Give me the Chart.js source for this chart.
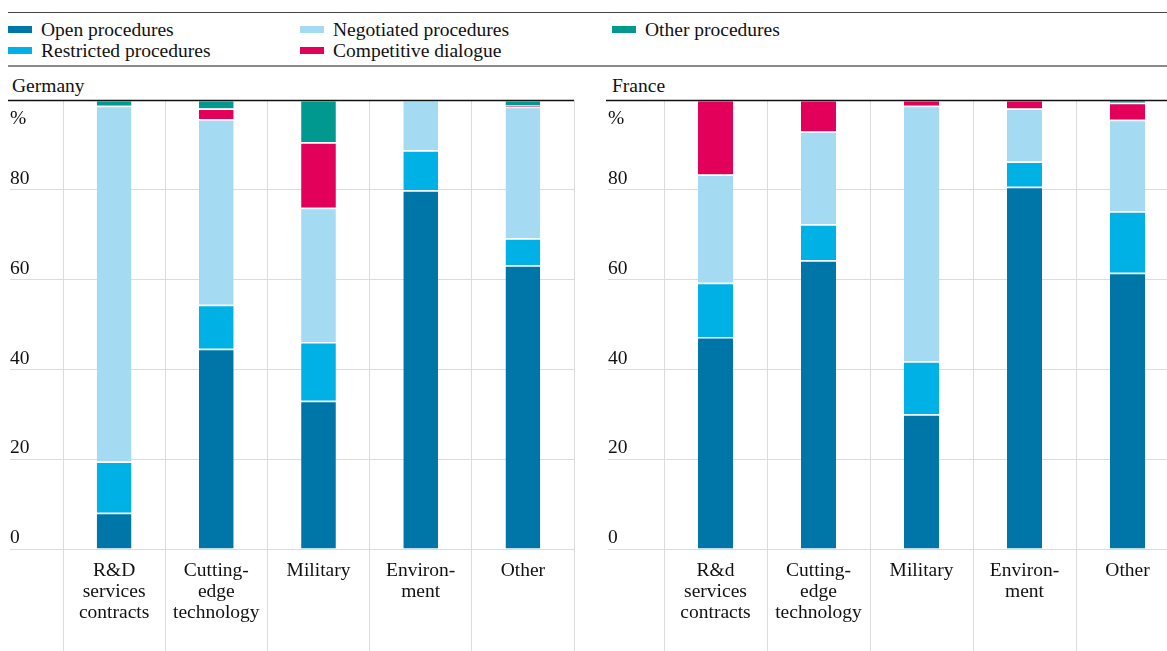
<!DOCTYPE html>
<html lang="en">
<head>
    <meta charset="UTF-8">
    <title>Procurement procedures: Germany and France</title>
    <style>
        body {
            margin: 0;
            padding: 0;
            width: 1167px;
            height: 651px;
            overflow: hidden;
            position: relative;
            background: #fff;
            font-family: "Liberation Serif", "Times New Roman", serif;
            color: #111;
        }

        .rule {
            position: absolute;
            left: 8px;
            right: 0;
        }

        #ruleTop { top: 12px; border-top: 1.5px solid #444; }
        #ruleMid { top: 65px; border-top: 2px solid #8a8a8a; }

        #legend {
            position: absolute;
            left: 8px;
            top: 19px;
            display: grid;
            grid-auto-flow: column;
            grid-template-rows: repeat(2, 21px);
            grid-template-columns: 292px 312px auto;
            font-size: 19.5px;
        }

        .item {
            display: flex;
            align-items: center;
            white-space: nowrap;
            line-height: 21px;
        }

        .swatch {
            width: 24px;
            height: 7px;
            margin-right: 9px;
            flex: none;
        }

        .panelTitle {
            position: absolute;
            top: 74px;
            font-size: 19.5px;
            line-height: 24px;
        }

        canvas {
            position: absolute;
            top: 88px;
        }
    </style>
    <script src="https://cdn.jsdelivr.net/npm/chart.js"></script>
</head>
<body>
    <div class="rule" id="ruleTop"></div>
    <div id="legend"></div>
    <div class="rule" id="ruleMid"></div>

    <div class="panelTitle" style="left: 12px;">Germany</div>
    <div class="panelTitle" style="left: 612px;">France</div>

    <canvas id="chartDE" width="568" height="563" style="left: 8px;"></canvas>
    <canvas id="chartFR" width="575" height="563" style="left: 606px;"></canvas>

    <script>
        // categories
        const categoriesDE = [['R&D', 'services', 'contracts'], ['Cutting-', 'edge', 'technology'], 'Military', ['Environ-', 'ment'], 'Other'];
        const categoriesFR = [['R&d', 'services', 'contracts'], ['Cutting-', 'edge', 'technology'], 'Military', ['Environ-', 'ment'], 'Other'];

        // series names and colours (stack order, bottom to top)
        const seriesNames = ['Open procedures', 'Restricted procedures', 'Negotiated procedures', 'Competitive dialogue', 'Other procedures'];
        const seriesColors = ['#0076a8', '#00b1e6', '#a5daf3', '#e3005a', '#00998f'];

        // Germany, % shares
        const openDE = [8.1, 44.6, 33.0, 79.9, 63.2];
        const restrictedDE = [11.4, 9.8, 13.1, 8.9, 6.0];
        const negotiatedDE = [79.2, 41.3, 29.9, 11.2, 29.3];
        const competitiveDE = [0, 2.4, 14.6, 0, 0.4];
        const otherDE = [1.3, 1.9, 9.4, 0, 1.1];

        // France, % shares
        const openFR = [47.2, 64.3, 30.0, 80.7, 61.5];
        const restrictedFR = [12.1, 8.0, 11.8, 5.6, 13.7];
        const negotiatedFR = [24.1, 20.7, 56.9, 11.8, 20.4];
        const competitiveFR = [16.6, 7.0, 1.3, 1.9, 3.8];
        const otherFR = [0, 0, 0, 0, 0.6];

        // y axis ticks
        const yTicks = [0, 20, 40, 60, 80, 100];
        const unitLabel = '%';

        const FONT = '"Liberation Serif", "Times New Roman", serif';
        const GRID = '#dcdcdc';
        const INK = '#111';

        // shared legend (html)
        const legend = document.getElementById('legend');
        seriesNames.forEach((name, i) => {
            const item = document.createElement('div');
            item.className = 'item';
            item.innerHTML = '<span class="swatch" style="background:' + seriesColors[i] + '"></span>' + name;
            legend.appendChild(item);
        });

        // dark rule at 100 % and the "%" unit under it
        const topRule = {
            id: 'topRule',
            afterDraw(chart) {
                const { ctx, chartArea } = chart;
                const y = chart.scales.y;
                const yTop = Math.round(y.getPixelForValue(100)) + 0.5;
                ctx.save();
                ctx.strokeStyle = INK;
                ctx.lineWidth = 1.5;
                ctx.beginPath();
                ctx.moveTo(0, yTop);
                ctx.lineTo(chartArea.right, yTop);
                ctx.stroke();
                ctx.fillStyle = INK;
                ctx.font = '19.5px ' + FONT;
                ctx.textBaseline = 'middle';
                ctx.textAlign = 'left';
                ctx.fillText(unitLabel, y.left, yTop + 18);
                ctx.restore();
            }
        };

        function makeChart(canvasId, labels, values, axisWidth) {
            const datasets = values.map((data, i) => ({
                label: seriesNames[i],
                data: data,
                backgroundColor: seriesColors[i],
                borderColor: '#ffffff',
                borderWidth: { top: 1.5, right: 0, bottom: 0, left: 0 },
                borderSkipped: 'start',
                barPercentage: 0.34,
                categoryPercentage: 1
            }));

            return new Chart(document.getElementById(canvasId), {
                type: 'bar',
                data: { labels: labels, datasets: datasets },
                options: {
                    responsive: false,
                    animation: false,
                    devicePixelRatio: 1,
                    layout: { padding: { top: 12, left: 2, right: 2, bottom: 0 } },
                    plugins: {
                        legend: { display: false },
                        tooltip: { enabled: false }
                    },
                    scales: {
                        x: {
                            stacked: true,
                            grid: {
                                color: GRID,
                                lineWidth: 1,
                                offset: true,
                                drawTicks: true,
                                tickLength: 102
                            },
                            border: { display: false },
                            ticks: {
                                color: INK,
                                font: { family: FONT, size: 19.5, lineHeight: 1.08 },
                                padding: -91,
                                maxRotation: 0,
                                autoSkip: false
                            },
                            afterFit(scale) { scale.height = 102; }
                        },
                        y: {
                            stacked: true,
                            min: 0,
                            max: 100,
                            afterBuildTicks(scale) {
                                scale.ticks = yTicks.map(v => ({ value: v }));
                            },
                            grid: {
                                color: GRID,
                                lineWidth: 1,
                                drawTicks: true,
                                tickLength: axisWidth
                            },
                            border: { display: false },
                            ticks: {
                                color: INK,
                                font: { family: FONT, size: 19.5 },
                                crossAlign: 'far',
                                labelOffset: -11,
                                padding: 0,
                                callback: v => (v === 100 ? '' : v)
                            },
                            afterFit(scale) { scale.width = axisWidth; }
                        }
                    }
                },
                plugins: [topRule]
            });
        }

        makeChart('chartDE', categoriesDE,
            [openDE, restrictedDE, negotiatedDE, competitiveDE, otherDE], 53);
        makeChart('chartFR', categoriesFR,
            [openFR, restrictedFR, negotiatedFR, competitiveFR, otherFR], 56);
    </script>
</body>
</html>
